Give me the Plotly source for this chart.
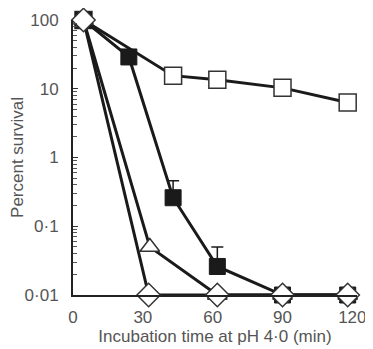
import plotly.graph_objects as go

# Data (time in min, percent survival)
open_sq_t = [4.5, 43, 62, 90, 118]
open_sq_v = [100, 15.5, 13.5, 10.3, 6.3]

filled_sq_t = [4.5, 24, 43, 62, 90, 118]
filled_sq_v = [100, 29, 0.26, 0.026, 0.01, 0.01]
filled_sq_err = [0, 0, 0.2, 0.024, 0, 0]

tri_t = [4.5, 33, 62, 90, 118]
tri_v = [100, 0.05, 0.01, 0.01, 0.01]

dia_t = [4.5, 32.5, 62, 90, 118]
dia_v = [100, 0.01, 0.01, 0.01, 0.01]

x_ticks = [0, 30, 60, 90, 120]
y_ticks = [0.01, 0.1, 1, 10, 100]
y_ticklabels = ["0·01", "0·1", "1", "10", "100"]

LINE = dict(color="#1a1a1a", width=3)

fig = go.Figure()
fig.add_trace(go.Scatter(
    x=open_sq_t, y=open_sq_v, mode="lines+markers", line=LINE,
    marker=dict(symbol="square", size=17, color="white",
                line=dict(color="#333333", width=1.5)),
    cliponaxis=False, showlegend=False))
fig.add_trace(go.Scatter(
    x=filled_sq_t, y=filled_sq_v, mode="lines+markers", line=LINE,
    error_y=dict(type="data", symmetric=False, array=filled_sq_err,
                 arrayminus=[0] * len(filled_sq_err),
                 color="#1a1a1a", thickness=1.5, width=6),
    marker=dict(symbol="square", size=16, color="#1a1a1a",
                line=dict(color="#1a1a1a", width=1)),
    cliponaxis=False, showlegend=False))
fig.add_trace(go.Scatter(
    x=tri_t, y=tri_v, mode="lines+markers", line=LINE,
    marker=dict(symbol="triangle-up", size=17, color="white",
                line=dict(color="#333333", width=1.5)),
    cliponaxis=False, showlegend=False))
fig.add_trace(go.Scatter(
    x=dia_t, y=dia_v, mode="lines+markers", line=LINE,
    marker=dict(symbol="diamond", size=18, color="white",
                line=dict(color="#333333", width=1.5)),
    cliponaxis=False, showlegend=False))

fig.update_layout(
    width=373, height=349,
    margin=dict(l=65, r=24, t=12, b=62, autoexpand=False),
    paper_bgcolor="white", plot_bgcolor="white",
    font=dict(family="Liberation Sans, Arial, sans-serif", size=17, color="#555555"),
    xaxis=dict(range=[0, 122], tickvals=x_ticks, ticks="", showgrid=False,
               zeroline=False, showline=True, linecolor="#222222", linewidth=2,
               ticklabelstandoff=6, automargin=False,
               title=dict(text="Incubation time at pH 4·0 (min)", standoff=0,
                          font=dict(size=17)),
               tickfont=dict(size=17)),
    yaxis=dict(type="log", range=[-2, 2], tickvals=y_ticks, ticktext=y_ticklabels,
               ticks="inside", ticklen=5, tickcolor="#333333", showgrid=False,
               zeroline=False, showline=True, linecolor="#222222", linewidth=2,
               ticklabelstandoff=9, automargin=False,
               minor=dict(ticks="inside", ticklen=4, tickcolor="#555555",
                          dtick="D1"),
               title=dict(text="Percent survival", standoff=6, font=dict(size=17)),
               tickfont=dict(size=17)),
)

fig.write_html("out.html")
